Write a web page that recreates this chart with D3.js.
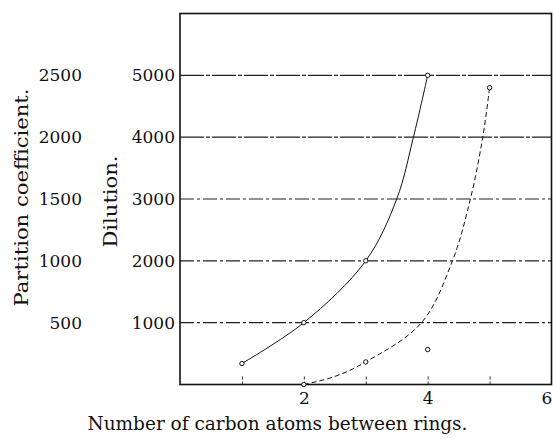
<!DOCTYPE html>
<html>
<head>
<meta charset="utf-8">
<script src="https://cdn.jsdelivr.net/npm/d3@7"></script>
<style>
  html, body { margin: 0; padding: 0; background: #fff; }
  svg { display: block; }
  text { font-family: "DejaVu Serif", "Liberation Serif", serif; fill: #111; }
</style>
</head>
<body>
<svg id="chart" width="553" height="439"></svg>
<script>
// ---- data ----
const dilutionTicks = [1000, 2000, 3000, 4000, 5000];
const partitionTicks = [500, 1000, 1500, 2000, 2500];
const xTickLabels = [2, 4, 6];
const xMinorTicks = [1, 2, 3, 4, 5];

// solid curve: measured points and traced path
const solidPoints = [[1, 340], [2, 1000], [3, 2000], [4, 5000]];
const solidTrace = [[1, 340], [2, 1000], [3, 2000], [3.5, 3000], [3.77, 4000], [4, 5000]];

// dashed curve: measured points and traced path
const dashedPoints = [[2, 0], [3, 365], [5, 4800]];
const dashedTrace = [[2, 0], [2.5, 130], [3, 365], [3.9, 1000], [4.4, 2000], [4.69, 3000], [4.89, 4000], [5, 4800]];

// isolated point
const loosePoints = [[4, 565]];

// ---- layout ----
const svg = d3.select("#chart");
const mLeft = 180, mRight = 551.5, mTop = 13.5, mBottom = 384.5;

const x = d3.scaleLinear().domain([0, 6]).range([mLeft, mRight]);
const y = d3.scaleLinear().domain([0, 6000]).range([mBottom, mTop]);
const yPart = d3.scaleLinear().domain([0, 3000]).range([mBottom, mTop]);

// gridlines
svg.append("g").selectAll("line").data(dilutionTicks).join("line")
  .attr("x1", mLeft).attr("x2", mRight)
  .attr("y1", d => y(d)).attr("y2", d => y(d))
  .attr("stroke", "#222").attr("stroke-width", 1.1)
  .attr("stroke-dasharray", d => d >= 4000 ? "24,2,4,2" : "14,3,3,3");

// bottom axis (inner ticks)
const xAxis = svg.append("g")
  .attr("transform", `translate(0,${mBottom})`)
  .call(d3.axisBottom(x).tickValues(xMinorTicks).tickSize(-10).tickFormat(""));
xAxis.select(".domain").remove();
xAxis.selectAll(".tick line").attr("stroke", "#333").attr("stroke-dasharray", "3,2");

// bottom tick labels
const xLab = svg.append("g")
  .attr("transform", `translate(0,${mBottom})`)
  .call(d3.axisBottom(x).tickValues(xTickLabels).tickSize(0).tickPadding(7).tickFormat(d3.format("d")));
xLab.select(".domain").remove();
xLab.selectAll("text").style("font-size", "17px").attr("fill", "#111")
  .attr("font-family", "DejaVu Serif");
xLab.selectAll(".tick").filter(d => d === 6).select("text").attr("dx", "-5");

// left axes labels: dilution
const yAx = svg.append("g").attr("transform", `translate(${mLeft},0)`)
  .call(d3.axisLeft(y).tickValues(dilutionTicks).tickSize(0).tickPadding(5).tickFormat(d3.format("d")));
yAx.select(".domain").remove();
yAx.selectAll("text").style("font-size", "17px").attr("fill", "#111").attr("font-family", "DejaVu Serif");

// partition coefficient
const pAx = svg.append("g").attr("transform", `translate(87,0)`)
  .call(d3.axisLeft(yPart).tickValues(partitionTicks).tickSize(0).tickPadding(5).tickFormat(d3.format("d")));
pAx.select(".domain").remove();
pAx.selectAll("text").style("font-size", "17px").attr("fill", "#111").attr("font-family", "DejaVu Serif");

// frame
svg.append("rect").attr("x", mLeft).attr("y", mTop)
  .attr("width", mRight - mLeft).attr("height", mBottom - mTop)
  .attr("fill", "none").attr("stroke", "#111").attr("stroke-width", 1.6);

// curves
const line = d3.line().x(d => x(d[0])).y(d => y(d[1])).curve(d3.curveCatmullRom.alpha(0.5));
svg.append("path").datum(solidTrace).attr("d", line)
  .attr("fill", "none").attr("stroke", "#111").attr("stroke-width", 1);
svg.append("path").datum(dashedTrace).attr("d", line)
  .attr("fill", "none").attr("stroke", "#111").attr("stroke-width", 1)
  .attr("stroke-dasharray", "5,3");

// markers
svg.append("g").selectAll("circle").data(solidPoints.concat(dashedPoints, loosePoints)).join("circle")
  .attr("cx", d => x(d[0])).attr("cy", d => y(d[1])).attr("r", 2.2)
  .attr("fill", "#fff").attr("stroke", "#111").attr("stroke-width", 1);

// titles
svg.append("text").attr("x", 277.5).attr("y", 430).attr("text-anchor", "middle")
  .attr("textLength", 380).attr("lengthAdjust", "spacingAndGlyphs")
  .style("font-size", "18px").text("Number of carbon atoms between rings.");

svg.append("text").attr("transform", "translate(28,197.5) rotate(-90)").attr("text-anchor", "middle")
  .attr("textLength", 218).attr("lengthAdjust", "spacingAndGlyphs")
  .style("font-size", "18px").text("Partition coefficient.");

svg.append("text").attr("transform", "translate(117,201.5) rotate(-90)").attr("text-anchor", "middle")
  .attr("textLength", 92).attr("lengthAdjust", "spacingAndGlyphs")
  .style("font-size", "18px").text("Dilution.");
</script>
</body>
</html>
